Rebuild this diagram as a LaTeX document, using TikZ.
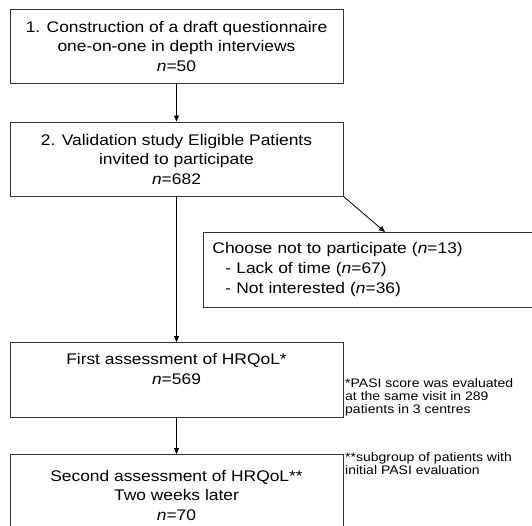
\documentclass[tikz,border=0pt]{standalone}
\usepackage{fontspec}
\setmainfont{Liberation Sans}[FakeStretch=1.13]
\usepackage{tikz}
\usetikzlibrary{arrows.meta,positioning}

\begin{document}
\begin{tikzpicture}[x=1pt, y=-1pt,
	flowbox/.style={draw=black!80, line width=0.9pt, minimum width=333pt, inner sep=0pt, align=center, font=\fontsize{15.4}{19.5}\selectfont},
	flowarrow/.style={line width=0.8pt, -{Triangle[length=6pt,width=5pt]}},
	notetext/.style={anchor=north west, inner sep=0pt, align=left, font=\fontsize{12.4}{12.9}\selectfont}]
			%%%%% START %%%%%
			
			\path[use as bounding box, fill=white] (0, 0) rectangle (532, 526);
			\clip (0, 0) rectangle (532, 526);
			
			\node[flowbox, minimum height=74pt] (construct) at (176.5, 46) {1. Construction of a draft questionnaire\\one-on-one in depth interviews\\\textit{n}=50};
			\node[flowbox, minimum height=74pt] (validation) at (176.5, 159) {2. Validation study Eligible Patients\\invited to participate\\\textit{n}=682};
			
			\node[flowbox, anchor=north west, minimum height=75pt, text width=345pt, inner xsep=9pt, align=left, font=\fontsize{15.4}{20}\selectfont] (decline) at (203, 232) {Choose not to participate (\textit{n}=13)\\\hspace*{13pt}- Lack of time (\textit{n}=67)\\\hspace*{13pt}- Not interested (\textit{n}=36)};
			
			\node[flowbox, anchor=north, minimum height=75pt, text depth=22pt] (first) at (176.5, 342) {First assessment of HRQoL*\\\textit{n}=569};
			\node[flowbox, anchor=north, minimum height=82pt] (second) at (176.5, 454) {Second assessment of HRQoL**\\Two weeks later\\\textit{n}=70};
			
			\draw[flowarrow] (construct) -- (validation);
			\draw[flowarrow] (validation.south east) -- (decline.north);
			\draw[flowarrow] (validation) -- (first);
			\draw[flowarrow] (first) -- (second);
			
			\node[notetext] (pasinote) at (345, 378.5) {*PASI score was evaluated\\at the same visit in 289\\patients in 3 centres};
			\node[notetext] (subnote) at (345, 452.5) {**subgroup of patients with\\initial PASI evaluation};
			
			%%%%% END %%%%%
\end{tikzpicture}
\end{document}
